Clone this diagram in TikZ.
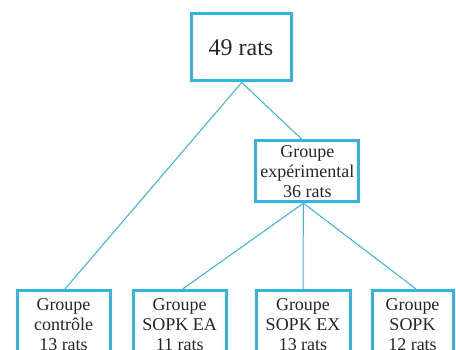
\documentclass[tikz,border=0pt]{standalone}
\usepackage{fontspec}
\setmainfont{Liberation Serif}
\definecolor{boxblue}{RGB}{50,180,220}
\begin{document}
\begin{tikzpicture}[x=1pt,y=-1pt,
  box/.style={draw=boxblue, line width=3pt, inner sep=0pt, align=center,
              text=black!85, font=\fontsize{18}{20}\selectfont},
  link/.style={draw=boxblue, line width=1pt}]
\useasboundingbox (0,0) rectangle (456,350);
\begin{scope}
\clip (0,0) rectangle (456,350);
\node[box, minimum width=100pt, minimum height=67pt,
      font=\fontsize{24}{28}\selectfont] (root) at (241,47.5) {49 rats};
\node[box, minimum width=103pt, minimum height=61pt] (exp) at (307.4,171.2)
  {Groupe\\expérimental\\36 rats};
\node[box, anchor=north, minimum width=93pt, minimum height=68pt] (ctrl) at (63.5,289)
  {Groupe\\contrôle\\13 rats};
\node[box, anchor=north, minimum width=93pt, minimum height=68pt] (ea) at (179.7,289)
  {Groupe\\SOPK EA\\11 rats};
\node[box, anchor=north, minimum width=94pt, minimum height=68pt] (ex) at (303,289)
  {Groupe\\SOPK EX\\13 rats};
\node[box, anchor=north, minimum width=81pt, minimum height=68pt] (sopk) at (412.5,289)
  {Groupe\\SOPK\\12 rats};
\draw[link] ([xshift=0.7pt]root.south) -- ([xshift=1.5pt]ctrl.north);
\draw[link] ([xshift=0.7pt]root.south) -- ([xshift=-5.7pt]exp.north);
\draw[link] ([xshift=-4pt]exp.south) -- ([xshift=3pt]ea.north);
\draw[link] ([xshift=-4pt]exp.south) -- (ex.north);
\draw[link] ([xshift=-4pt]exp.south) -- ([xshift=3.5pt]sopk.north);
\end{scope}
\end{tikzpicture}
\end{document}
